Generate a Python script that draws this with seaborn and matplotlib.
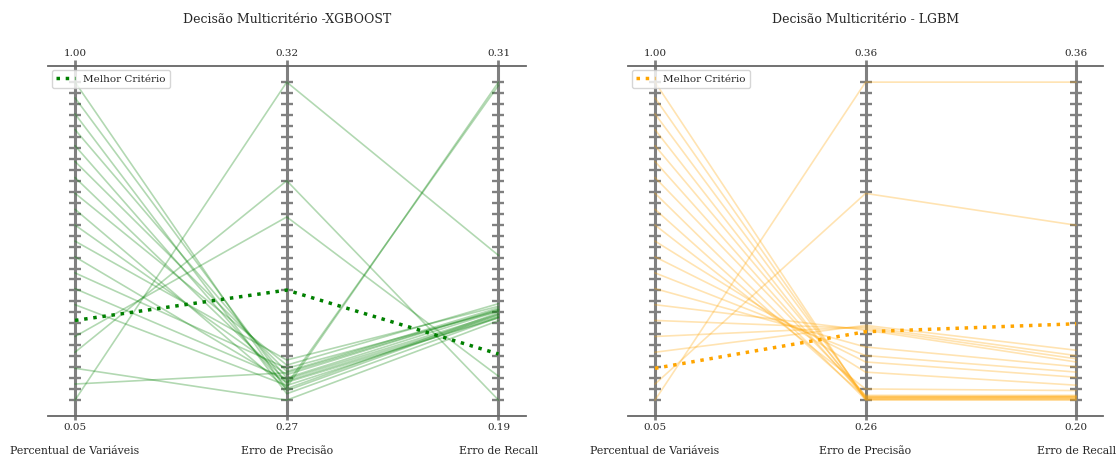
import numpy as np
import pandas as pd
import matplotlib
matplotlib.use('Agg')
import matplotlib.pyplot as plt
import matplotlib.transforms as mtransforms
import seaborn as sns

# Critérios (eixos paralelos)
CRITERIOS = ['Percentual de Variáveis', 'Erro de Precisão', 'Erro de Recall']

# Percentual de variáveis usado em cada modelo (igual para os dois gráficos)
PERC_VARIAVEIS = [1.000, 0.953, 0.905, 0.858, 0.810, 0.763, 0.715, 0.668, 0.620, 0.573, 0.525,
                  0.478, 0.430, 0.383, 0.335, 0.288, 0.240, 0.193, 0.145, 0.098, 0.050]

# XGBOOST
XGB_PRECISAO = [0.2715, 0.2725, 0.2710, 0.2735, 0.2720, 0.2745, 0.2730, 0.2755, 0.2718, 0.2740, 0.2763,
                0.2728, 0.2750, 0.2733, 0.2723, 0.2873, 0.2988, 0.3045, 0.2700, 0.2743, 0.3200]
XGB_RECALL = [0.2224, 0.3088, 0.2212, 0.2236, 0.3100, 0.2248, 0.2218, 0.2264, 0.2230, 0.2242, 0.2254,
              0.2210, 0.2236, 0.2224, 0.2214, 0.2074, 0.1990, 0.1900, 0.2200, 0.2242, 0.2446]
XGB_MELHOR = 15

# LGBM
LGBM_PRECISAO = [0.2600, 0.2605, 0.2610, 0.2603, 0.2612, 0.2607, 0.2615, 0.2602, 0.2609, 0.2635, 0.2688,
                 0.2720, 0.2740, 0.2767, 0.2820, 0.2825, 0.2830, 0.2835, 0.2815, 0.3250, 0.3600]
LGBM_RECALL = [0.2000, 0.2013, 0.2019, 0.2006, 0.2016, 0.2010, 0.2024, 0.2003, 0.2018, 0.2048, 0.2075,
               0.2115, 0.2141, 0.2168, 0.2192, 0.2208, 0.2224, 0.2251, 0.2384, 0.2880, 0.3600]
LGBM_MELHOR = 18

TITULOS = ['Decisão Multicritério -XGBOOST', 'Decisão Multicritério - LGBM']
CORES = ['green', 'orange']

sns.set_theme(style='white')
plt.rcParams['font.family'] = ['DejaVu Serif']


def to_long(perc, prec, rec):
    """Normaliza cada critério entre 0 e 1 e devolve formato longo."""
    df = pd.DataFrame({CRITERIOS[0]: perc, CRITERIOS[1]: prec, CRITERIOS[2]: rec})
    norm = (df - df.min()) / (df.max() - df.min())
    norm['id'] = range(len(df))
    long = norm.melt(id_vars='id', var_name='criterio', value_name='valor')
    long['pos'] = long['criterio'].map({c: i for i, c in enumerate(CRITERIOS)})
    return df, long


def plot_panel(ax, df, long, best, color, title):
    tick_y = np.linspace(0, 1, 30)
    for i in range(len(CRITERIOS)):
        ax.axvline(i, color='gray', lw=2.2, zorder=1)
        ax.plot([i] * len(tick_y), tick_y, ls='none', marker='_', ms=8, mew=1.7,
                color='gray', zorder=1)

    others = long[long['id'] != best]
    sns.lineplot(data=others, x='pos', y='valor', units='id', estimator=None,
                 color=color, alpha=0.3, lw=1.2, ax=ax, zorder=2, legend=False)
    sns.lineplot(data=long[long['id'] == best], x='pos', y='valor', estimator=None,
                 color=color, linestyle=':', lw=2.5, ax=ax, zorder=3, label='Melhor Critério')

    ax.set_xlim(-0.13, 2.13)
    ax.set_ylim(-0.05, 1.05)
    ax.set_yticks([])
    ax.set_xlabel('')
    ax.set_ylabel('')
    for s in ['left', 'right']:
        ax.spines[s].set_visible(False)
    for s in ['top', 'bottom']:
        ax.spines[s].set_color('#666666')
        ax.spines[s].set_linewidth(1.3)

    ax.set_xticks(range(3), [f'{v:.2f}' for v in df.min()])
    ax.tick_params(axis='x', bottom=True, color='gray', width=2, length=3, labelsize=7.5, pad=2)

    top = ax.secondary_xaxis('top')
    top.set_xticks(range(3), [f'{v:.2f}' for v in df.max()])
    top.tick_params(axis='x', color='gray', width=2, length=4, labelsize=7.5, pad=2)
    top.spines['top'].set_visible(False)

    trans = mtransforms.blended_transform_factory(ax.transData, ax.transAxes)
    for i, name in enumerate(CRITERIOS):
        ax.text(i, -0.10, name, transform=trans, ha='center', va='center', fontsize=7.8)

    ax.set_title(title, fontsize=9, y=1.125, pad=0)
    ax.legend(loc='upper left', fontsize=7.5, borderaxespad=0.4, handlelength=1.8)


fig = plt.figure(figsize=(11.18, 4.59), dpi=100)
ax1 = fig.add_axes([0.0425, 0.0937, 0.428, 0.762])
ax2 = fig.add_axes([0.5614, 0.0937, 0.4256, 0.762])

dados = [
    (PERC_VARIAVEIS, XGB_PRECISAO, XGB_RECALL, XGB_MELHOR),
    (PERC_VARIAVEIS, LGBM_PRECISAO, LGBM_RECALL, LGBM_MELHOR),
]
for ax, (perc, prec, rec, best), color, title in zip([ax1, ax2], dados, CORES, TITULOS):
    df, long = to_long(perc, prec, rec)
    plot_panel(ax, df, long, best, color, title)

fig.savefig('out.png', dpi=100)
